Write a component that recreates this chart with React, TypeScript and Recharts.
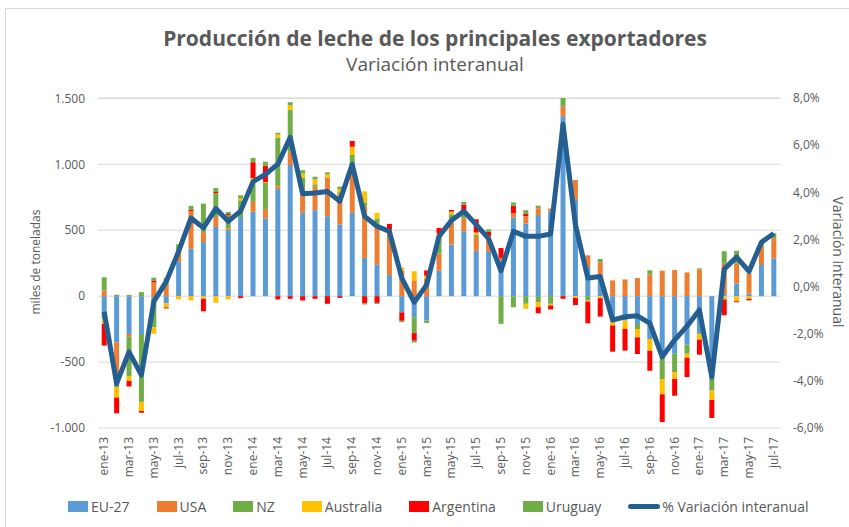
import React from 'react';
import { ComposedChart, Bar, Line, XAxis, YAxis, CartesianGrid } from 'recharts';

const months = [
  'ene-13', 'feb-13', 'mar-13', 'abr-13', 'may-13', 'jun-13', 'jul-13', 'ago-13', 'sep-13', 'oct-13', 'nov-13', 'dic-13',
  'ene-14', 'feb-14', 'mar-14', 'abr-14', 'may-14', 'jun-14', 'jul-14', 'ago-14', 'sep-14', 'oct-14', 'nov-14', 'dic-14',
  'ene-15', 'feb-15', 'mar-15', 'abr-15', 'may-15', 'jun-15', 'jul-15', 'ago-15', 'sep-15', 'oct-15', 'nov-15', 'dic-15',
  'ene-16', 'feb-16', 'mar-16', 'abr-16', 'may-16', 'jun-16', 'jul-16', 'ago-16', 'sep-16', 'oct-16', 'nov-16', 'dic-16',
  'ene-17', 'feb-17', 'mar-17', 'abr-17', 'may-17', 'jun-17', 'jul-17',
];

// miles de toneladas, variación interanual por país
const eu27 = [-170, -350, -287, -287, -15, -55, 260, 360, 410, 525, 500, 600, 640, 590, 813, 995, 632, 652, 607, 545, 632, 290, 238, 161, -123, -160, -185, 193, 391, 493, 343, 335, 270, 595, 551, 615, 645, 1364, 730, 221, 157, -173, -185, -211, -325, -450, -437, -366, -280, -627, 15, 96, 20, 236, 287];
const usa = [43, -280, -18, 0, 105, 85, 90, 285, 76, 75, 15, 0, 76, 70, 20, 100, 135, 178, 292, 228, 363, 390, 312, 318, 192, 120, 130, 130, 200, 96, 105, 97, 20, 33, 56, 51, 20, 76, 152, 89, 100, 120, 127, 137, 163, 193, 198, 180, 203, 0, 230, 152, 152, 152, 152];
const nz = [100, -63, -300, -515, -220, 55, 43, 0, 216, 180, 100, 127, 150, 200, 368, 318, 130, 18, 0, 15, 76, 30, 38, 25, 0, -120, -18, 127, 30, 30, 15, 0, -210, -84, -58, -46, -58, 63, 0, -33, 0, 0, 0, -38, 0, -180, -140, -71, -10, -89, 96, 96, 0, 25, 38];
const australia = [-40, -76, -38, -69, -50, -30, -25, -33, -20, -50, -25, 13, 30, 5, 25, 33, 33, 38, 25, 25, 63, 85, 44, 0, 25, 69, 25, 25, 20, 0, 20, 25, 0, 0, -38, -38, -13, 0, -13, -8, -15, -50, -63, -63, -89, -114, -51, -30, -40, -71, -25, -38, -20, 0, 0];
const argentina = [-165, -120, -43, -13, 10, -8, 0, 10, -95, 10, 8, -15, 120, 125, -25, -20, -33, -20, -58, -13, 43, -55, -51, 44, -64, -58, 40, 43, 13, 75, 100, 30, 75, 58, 20, -46, -30, -20, -55, -165, -140, -198, -165, -127, -152, -211, -127, -147, -114, -137, -120, -8, -12, 0, 0];
const uruguay = [0, 10, 8, 30, 25, 0, 0, 30, 0, 30, 15, 25, 33, 30, 13, 25, 25, 20, 15, 18, 0, -8, -8, 0, -10, -13, 0, 0, 0, 20, 0, 20, 0, 25, 25, 20, 0, 0, 0, 0, 25, 0, 0, 0, 33, 0, 0, 0, 8, 0, 0, 0, 0, 0, 0];
// % variación interanual (eje derecho)
const variation = [-1.07, -4.12, -2.77, -3.76, -0.64, 0.21, 1.49, 2.91, 2.49, 3.31, 2.77, 3.2, 4.45, 4.76, 5.19, 6.33, 3.94, 3.97, 4.03, 3.62, 5.19, 2.98, 2.56, 2.34, 0.36, -0.67, 0.07, 2.13, 2.8, 3.2, 2.63, 2.03, 0.67, 2.34, 2.13, 2.13, 2.23, 6.89, 2.63, 0.36, 0.43, -1.42, -1.28, -1.24, -1.55, -2.98, -2.27, -1.68, -0.99, -3.84, 0.74, 1.25, 0.64, 1.88, 2.25];

const leftTicks = [-1000, -500, 0, 500, 1000, 1500];
const rightTicks = [-6, -4, -2, 0, 2, 4, 6, 8];

const series = [
  { key: 'eu', name: 'EU-27', color: '#5B9BD5' },
  { key: 'usa', name: 'USA', color: '#ED7D31' },
  { key: 'nz', name: 'NZ', color: '#70AD47' },
  { key: 'aus', name: 'Australia', color: '#FFC000' },
  { key: 'arg', name: 'Argentina', color: '#FF0000' },
  { key: 'uru', name: 'Uruguay', color: '#70AD47' },
];
const lineColor = '#255E91';

const data = months.map((m, i) => ({
  month: m,
  eu: eu27[i],
  usa: usa[i],
  nz: nz[i],
  aus: australia[i],
  arg: argentina[i],
  uru: uruguay[i],
  pct: variation[i],
}));

const font = '"Open Sans", "Noto Sans", sans-serif';
const grey = '#595959';

const fmtThousands = (v: number) => {
  const s = Math.abs(v).toString().replace(/\B(?=(\d{3})+(?!\d))/g, '.');
  return v < 0 ? '-' + s : s;
};
const fmtPct = (v: number) => v.toFixed(1).replace('.', ',') + '%';

const MonthTick = (props: any) => {
  const { x, y, payload } = props;
  return (
    <g transform={`translate(${x},${y})`}>
      <text transform="rotate(-90)" x={0} y={4} textAnchor="end" fill={grey} fontSize={12} fontFamily={font}>
        {payload.value}
      </text>
    </g>
  );
};

const App: React.FC = () => {
  return (
    <div style={{ position: 'relative', width: 849, height: 527, overflow: 'hidden', background: '#fff', fontFamily: font }}>
      <style>{'body{margin:0;overflow:hidden}'}</style>
      <div style={{ position: 'absolute', left: 5, top: 8, width: 900, height: 600, border: '1px solid #d9d9d9' }} />

      <div style={{ position: 'absolute', left: 0, width: 870, top: 24, textAlign: 'center', fontSize: 21, fontWeight: 700, color: grey, lineHeight: '28px' }}>
        Producción de leche de los principales exportadores
      </div>
      <div style={{ position: 'absolute', left: 0, width: 870, top: 51, textAlign: 'center', fontSize: 19, color: grey, lineHeight: '26px' }}>
        Variación interanual
      </div>

      <div style={{ position: 'absolute', left: 0, top: 0 }}>
        <ComposedChart
          width={849}
          height={527}
          data={data}
          stackOffset="sign"
          barCategoryGap="30%"
          margin={{ top: 98, right: 9, bottom: 39, left: 38 }}
        >
          <CartesianGrid vertical={false} stroke="#d9d9d9" yAxisId="left" />
          <XAxis
            dataKey="month"
            interval={1}
            axisLine={false}
            tickLine={false}
            tickSize={0}
            tickMargin={9}
            height={60}
            tick={<MonthTick />}
          />
          <YAxis
            yAxisId="left"
            domain={[-1000, 1500]}
            ticks={leftTicks}
            tickFormatter={fmtThousands}
            axisLine={false}
            tickLine={false}
            width={60}
            tickMargin={7}
            tick={{ fill: grey, fontSize: 12, fontFamily: font }}
          />
          <YAxis
            yAxisId="right"
            orientation="right"
            domain={[-6, 8]}
            ticks={rightTicks}
            tickFormatter={fmtPct}
            axisLine={false}
            tickLine={false}
            width={60}
            tickMargin={7}
            tick={{ fill: grey, fontSize: 12, fontFamily: font }}
          />
          {series.map((s) => (
            <Bar key={s.key} yAxisId="left" dataKey={s.key} name={s.name} stackId="a" fill={s.color} isAnimationActive={false} />
          ))}
          <Line
            yAxisId="right"
            type="linear"
            dataKey="pct"
            name="% Variación interanual"
            stroke={lineColor}
            strokeWidth={5}
            strokeLinejoin="round"
            dot={false}
            isAnimationActive={false}
          />
        </ComposedChart>
      </div>

      <div style={{ position: 'absolute', left: 35, top: 262, transform: 'translate(-50%,-50%) rotate(-90deg)', whiteSpace: 'nowrap', fontSize: 12, color: grey }}>
        miles de toneladas
      </div>
      <div style={{ position: 'absolute', left: 838, top: 262, transform: 'translate(-50%,-50%) rotate(90deg)', whiteSpace: 'nowrap', fontSize: 14, color: grey }}>
        Variación interanual
      </div>

      <div style={{ position: 'absolute', left: 68, top: 497, display: 'flex', alignItems: 'center', gap: 27, fontSize: 14, color: grey, whiteSpace: 'nowrap' }}>
        {series.map((s) => (
          <div key={s.key} style={{ display: 'flex', alignItems: 'center', gap: 3 }}>
            <span style={{ display: 'inline-block', width: 20, height: 11, background: s.color }} />
            <span>{s.name}</span>
          </div>
        ))}
        <div style={{ display: 'flex', alignItems: 'center', gap: 2 }}>
          <span style={{ display: 'inline-block', width: 32, height: 5, borderRadius: 3, background: lineColor }} />
          <span>% Variación interanual</span>
        </div>
      </div>
    </div>
  );
};

export default App;
